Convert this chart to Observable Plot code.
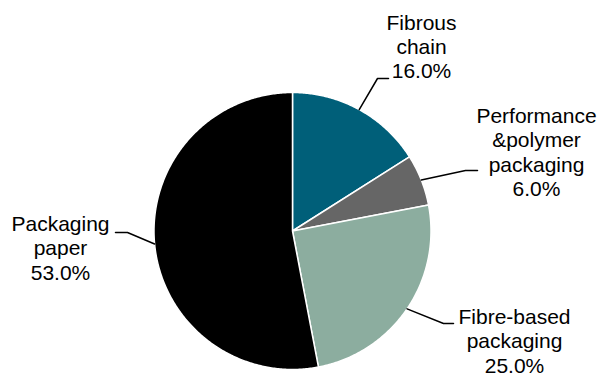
<!DOCTYPE html>
<html>
<head>
<meta charset="utf-8">
<script src="https://cdn.jsdelivr.net/npm/d3@7"></script>
<script src="https://cdn.jsdelivr.net/npm/@observablehq/plot@0.6"></script>
<style>
  html, body { margin: 0; padding: 0; background: #fff; }
  #chart svg { display: block; }
</style>
</head>
<body>
<div id="chart"></div>
<script>
// Segment shares, clockwise from 12 o'clock
const segments = ["Fibrous chain", "Performance &polymer packaging", "Fibre-based packaging", "Packaging paper"];
const labelLines = [["Fibrous", "chain"], ["Performance", "&polymer", "packaging"], ["Fibre-based", "packaging"], ["Packaging", "paper"]];
const shares = [16.0, 6.0, 25.0, 53.0];
const colors = ["#005f79", "#666666", "#8cad9f", "#000000"];

// Layout (pixels)
const W = 600, H = 376;
const cx = 292, cy = 230.5, r = 138.5;
// label block centre x, first baseline y; leader elbow and end points
const labelLayout = [
  {x: 421, y: 30.5, elbow: [377, 78], end: [388, 78]},
  {x: 536, y: 124, elbow: [465, 170], end: [477, 170]},
  {x: 514, y: 325, elbow: [443, 323], end: [453, 323]},
  {x: 60, y: 232, elbow: [127, 232], end: [115, 232]}
];

const pie = d3.pie().sort(null).value(d => d.share)(
  segments.map((name, i) => ({name, share: shares[i]}))
);

const px = a => cx + r * Math.sin(a);
const py = a => cy - r * Math.cos(a);

// Polygon outline for each wedge: centre, then points along the arc
const wedgePoints = pie.flatMap(s => {
  const n = Math.max(2, Math.ceil((s.endAngle - s.startAngle) / 0.01));
  const pts = [{name: s.data.name, x: cx, y: cy}];
  for (let k = 0; k <= n; k++) {
    const a = s.startAngle + (s.endAngle - s.startAngle) * k / n;
    pts.push({name: s.data.name, x: px(a), y: py(a)});
  }
  return pts;
});

// Leader lines: wedge mid-arc -> elbow -> end
const leaderPoints = pie.flatMap((s, i) => {
  const m = (s.startAngle + s.endAngle) / 2;
  const L = labelLayout[i];
  return [
    {i, x: px(m), y: py(m)},
    {i, x: L.elbow[0], y: L.elbow[1]},
    {i, x: L.end[0], y: L.end[1]}
  ];
});

const labels = pie.map((s, i) => ({
  x: labelLayout[i].x,
  y: labelLayout[i].y,
  text: [...labelLines[i], s.data.share.toFixed(1) + "%"].join("\n")
}));

const fontSize = 21;
const lineH = 24.2;

const chart = Plot.plot({
  width: W,
  height: H,
  margin: 0,
  x: {type: "identity", axis: null},
  y: {type: "identity", axis: null},
  color: {domain: segments, range: colors},
  marks: [
    Plot.line(wedgePoints, {
      x: "x", y: "y", z: "name", fill: "name",
      stroke: "white", strokeWidth: 1.5, curve: "linear-closed"
    }),
    Plot.line(leaderPoints, {x: "x", y: "y", z: "i", stroke: "black", strokeWidth: 1.5}),
    Plot.text(labels, {
      x: "x",
      y: d => d.y - 0.71 * fontSize - 3.5,
      text: "text",
      lineAnchor: "top",
      lineHeight: lineH / fontSize,
      textAnchor: "middle",
      fontSize,
      fill: "#000"
    })
  ],
  style: {fontFamily: "'Liberation Sans', Arial, sans-serif", background: "white"}
});

document.getElementById("chart").append(chart);
</script>
</body>
</html>
